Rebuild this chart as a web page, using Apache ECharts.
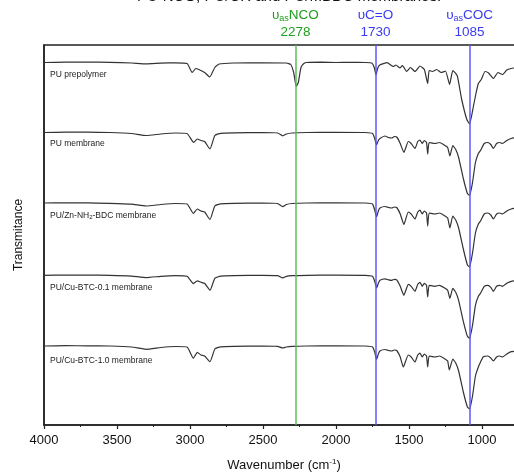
<!DOCTYPE html>
<html><head><meta charset="utf-8">
<script src="https://cdn.jsdelivr.net/npm/echarts/dist/echarts.min.js"></script>
<style>html,body{margin:0;padding:0;background:#fff}#c{width:514px;height:472px}</style>
</head><body><div id="c"></div>
<script>
// ---- data ----
const seriesNames = ['PU prepolymer', 'PU membrane', 'PU/Zn-NH{sub|2}-BDC membrane', 'PU/Cu-BTC-0.1 membrane', 'PU/Cu-BTC-1.0 membrane'];
const offsets = [362.5, 292.5, 222, 149.7, 79];   // vertical stacking offsets (a.u.)
const prepolymer = [[4000,0],[3850,0.4],[3700,0.5],[3550,0.2],[3400,-0.5],[3300,-1.3],[3200,-0.6],[3100,-0.3],[3020,-1],[2985,-10],[2960,-6],[2940,-7],[2900,-10],[2865,-14.5],[2830,-5],[2800,-1.5],[2700,-0.5],[2500,-0.3],[2340,-0.5],[2310,-2],[2290,-10],[2272,-24],[2258,-20],[2240,-5],[2220,-1],[2200,0],[2100,0.3],[2000,0],[1900,0.2],[1800,0],[1755,-0.5],[1738,-5],[1726,-12.5],[1715,-6],[1700,-2.5],[1650,-0.2],[1607,-4],[1590,-2.5],[1562,-5.5],[1545,-3],[1516,-9],[1490,-5],[1459,-9],[1425,-3.5],[1395,-7],[1372,-21],[1362,-8],[1340,-9],[1310,-7],[1280,-10],[1250,-8.5],[1222,-22],[1200,-8],[1170,-13],[1139,-37],[1104,-57],[1085,-61.5],[1059,-44],[1040,-30],[1025,-21],[1005,-17],[979,-9],[955,-10.5],[922,-16],[890,-10],[860,-12],[830,-7.5],[800,-6],[760,-5]];
const puMembrane = [[4000,0],[3850,0.3],[3700,0.3],[3550,0],[3400,-1],[3300,-3],[3200,-1.5],[3100,-0.5],[3020,-1],[2975,-10],[2950,-6.5],[2925,-8],[2900,-9],[2863,-16.5],[2830,-3],[2790,-0.8],[2700,-0.3],[2500,0],[2400,-0.5],[2365,-3.3],[2340,-1.5],[2300,-0.5],[2200,0],[2000,0.2],[1800,0],[1750,-1],[1735,-6],[1722,-12.5],[1710,-8],[1699,-6],[1664,-3.5],[1640,-5],[1618,-5.5],[1600,-4],[1584,-4.5],[1560,-11],[1535,-20],[1505,-9],[1485,-11],[1459,-16],[1440,-9],[1425,-7.5],[1410,-11],[1395,-8],[1380,-10],[1372,-21.5],[1362,-10],[1322,-11],[1290,-10],[1253,-13],[1235,-15],[1220,-23.5],[1200,-13],[1180,-17],[1160,-25],[1128,-46],[1100,-61],[1085,-63],[1065,-50],[1045,-30],[1025,-21],[1010,-18],[985,-11],[960,-10],[940,-12],[922,-16],[900,-11],[880,-10],[860,-11],[830,-8],[800,-6],[760,-5]];
const znMembrane = [[4000,0],[3850,0.2],[3700,0.2],[3550,-0.3],[3400,-1.2],[3300,-3],[3200,-1.5],[3100,-0.5],[3020,-1],[2977,-10.5],[2950,-6],[2925,-8],[2900,-9],[2863,-16.5],[2830,-3],[2790,-0.8],[2700,-0.3],[2500,0],[2400,-0.5],[2365,-3.7],[2340,-1.5],[2300,-0.5],[2200,0],[2000,0.2],[1800,0],[1750,-1],[1735,-7],[1722,-14],[1710,-8],[1699,-5],[1664,-3.5],[1640,-4.5],[1618,-5],[1600,-4],[1584,-4.5],[1560,-11],[1535,-21.5],[1505,-9],[1485,-11],[1459,-16],[1440,-9],[1425,-7],[1410,-11],[1395,-8],[1380,-10],[1372,-23],[1362,-10],[1322,-11],[1290,-10],[1253,-13],[1235,-15],[1220,-25],[1200,-13],[1180,-17],[1160,-25],[1128,-46],[1100,-62],[1085,-64],[1065,-50],[1045,-30],[1025,-21],[1010,-18],[985,-11],[960,-10],[940,-12],[922,-16],[900,-11],[880,-10],[860,-11],[830,-8],[800,-6],[760,-5]];
const cu01Membrane = [[4000,0],[3850,0.2],[3700,0.2],[3550,0],[3400,-0.8],[3300,-2.3],[3200,-1],[3100,-0.4],[3020,-1],[2977,-8.3],[2950,-5.5],[2925,-7],[2900,-8],[2863,-15],[2830,-3],[2790,-0.8],[2700,-0.3],[2500,0],[2400,-0.4],[2365,-2.5],[2340,-1],[2300,-0.4],[2200,0],[2000,0.2],[1800,0],[1750,-1],[1735,-6],[1722,-12.7],[1710,-8],[1699,-5],[1664,-3.5],[1640,-4.5],[1618,-5],[1600,-4],[1584,-4.5],[1560,-11],[1535,-20],[1505,-9],[1485,-11],[1459,-16],[1440,-9],[1425,-7],[1410,-11],[1395,-8],[1380,-10],[1372,-21.7],[1362,-10],[1322,-11],[1290,-10],[1253,-13],[1235,-15],[1220,-23],[1200,-13],[1180,-17],[1160,-25],[1128,-46],[1100,-61],[1085,-63],[1065,-50],[1045,-30],[1025,-21],[1010,-18],[985,-11],[960,-10],[940,-12],[922,-16],[900,-11],[880,-10],[860,-11],[830,-8],[800,-6],[760,-5]];
const cu10Membrane = [[4000,0],[3850,0.3],[3700,0.2],[3550,0],[3400,-1],[3300,-3.3],[3200,-1.5],[3100,-0.5],[3020,-1],[2977,-12.3],[2950,-6.3],[2925,-9],[2900,-10],[2863,-15.7],[2830,-3],[2790,-0.8],[2700,-0.3],[2500,0],[2400,-0.4],[2365,-2],[2340,-1],[2300,-0.4],[2200,0],[2000,0.2],[1800,0],[1750,-1],[1735,-6],[1722,-13.3],[1710,-8],[1699,-5],[1664,-3.5],[1640,-4.5],[1618,-5],[1600,-4],[1584,-4.5],[1560,-11],[1539,-21],[1505,-9],[1485,-11],[1459,-16],[1440,-9],[1425,-7],[1410,-11],[1395,-8],[1380,-10],[1372,-21],[1362,-10],[1322,-11],[1290,-10],[1253,-13],[1235,-15],[1224,-24],[1200,-13],[1180,-17],[1160,-25],[1128,-46],[1100,-61],[1085,-63],[1065,-50],[1045,-30],[1025,-21],[1010,-16],[991,-10.7],[960,-10],[940,-12],[922,-15],[900,-11],[880,-10],[860,-11],[830,-8],[800,-5.7],[760,-5]];
const spectra = [prepolymer, puMembrane, znMembrane, cu01Membrane, cu10Membrane];
const markerWavenumbers = [2278, 1730, 1085];
const markerNames = ['{a|υ}{s|as}{a|NCO}', '{a|υC=O}', '{a|υ}{s|as}{a|COC}'];
const markerColors = ['#5cbd5c', '#5a5aff', '#5a5aff'];
const markerTextColors = ['#1f9e1f', '#3a3af0', '#3a3af0'];
const xMin = 500, xMax = 4000, xInterval = 500;

// ---- chart ----
const FONT = 'Liberation Sans, Arial, sans-serif';
const chart = echarts.init(document.getElementById('c'));
const series = spectra.map((s, i) => ({
  type: 'line', showSymbol: false, smooth: 0.15, animation: false,
  data: s.map(p => [p[0], p[1] + offsets[i]]),
  lineStyle: { color: '#333', width: 1.2 },
  z: 3
}));
series[0].markLine = {
  silent: true, symbol: 'none', animation: false,
  data: markerWavenumbers.map((w, i) => ({
    xAxis: w,
    lineStyle: { color: markerColors[i], width: 1.5, type: 'solid' },
    label: {
      show: true, position: 'end', distance: 4,
      formatter: markerNames[i] + '\n{a|' + w + '}',
      rich: {
        a: { fontSize: 13.5, color: markerTextColors[i], fontFamily: FONT, lineHeight: 17 },
        s: { fontSize: 9, color: markerTextColors[i], fontFamily: FONT, lineHeight: 17, padding: [7, 0, 0, 0] }
      }
    }
  }))
};
const labelTop = [70, 139, 211, 283, 356];
const graphics = seriesNames.map((n, i) => ({
  type: 'text', left: 50, top: labelTop[i], z: 10,
  style: {
    text: n, fill: '#222', font: '8.5px ' + FONT,
    rich: { sub: { fontSize: 6, fill: '#222', padding: [4, 0, 0, 0], fontFamily: FONT } }
  }
}));
graphics.push({
  type: 'text', x: 289, y: 4, z: 10,
  style: { text: 'PU-NCO, PU/CR and PU/MBDC membranes.', fill: '#111', font: '15px ' + FONT, textAlign: 'center', textVerticalAlign: 'bottom' }
});
graphics.push({
  type: 'text', x: 284, y: 465, z: 10,
  style: {
    text: 'Wavenumber (cm{sup|-1})', fill: '#111', font: '13px ' + FONT, textAlign: 'center', textVerticalAlign: 'middle',
    rich: { sup: { fontSize: 8, fill: '#111', padding: [0, 0, 7, 0], fontFamily: FONT } }
  }
});
chart.setOption({
  animation: false,
  backgroundColor: '#fff',
  grid: { left: 44, width: 511, top: 45, bottom: 47, show: true, borderColor: '#222', borderWidth: 1.5, containLabel: false, outerBoundsMode: 'none' },
  xAxis: {
    type: 'value', inverse: true, min: xMin, max: xMax, interval: xInterval,
    axisLine: { show: true, lineStyle: { color: '#222', width: 1.5 } },
    axisTick: { show: true, inside: false, length: 4, lineStyle: { color: '#222', width: 1.2 } },
    minorTick: { show: true, splitNumber: 2, length: 2, lineStyle: { color: '#222', width: 1 } },
    splitLine: { show: false },
    axisLabel: { fontSize: 13, color: '#111', margin: 9, fontFamily: FONT, formatter: v => String(v) }
  },
  yAxis: {
    type: 'value', min: 0, max: 380,
    name: 'Transmitance', nameLocation: 'middle', nameGap: 19,
    nameTextStyle: { fontSize: 12, color: '#111', fontFamily: FONT },
    axisLine: { show: true, lineStyle: { color: '#222', width: 1.5 } },
    axisTick: { show: false }, axisLabel: { show: false }, splitLine: { show: false }
  },
  graphic: graphics,
  series: series
});
</script></body></html>
